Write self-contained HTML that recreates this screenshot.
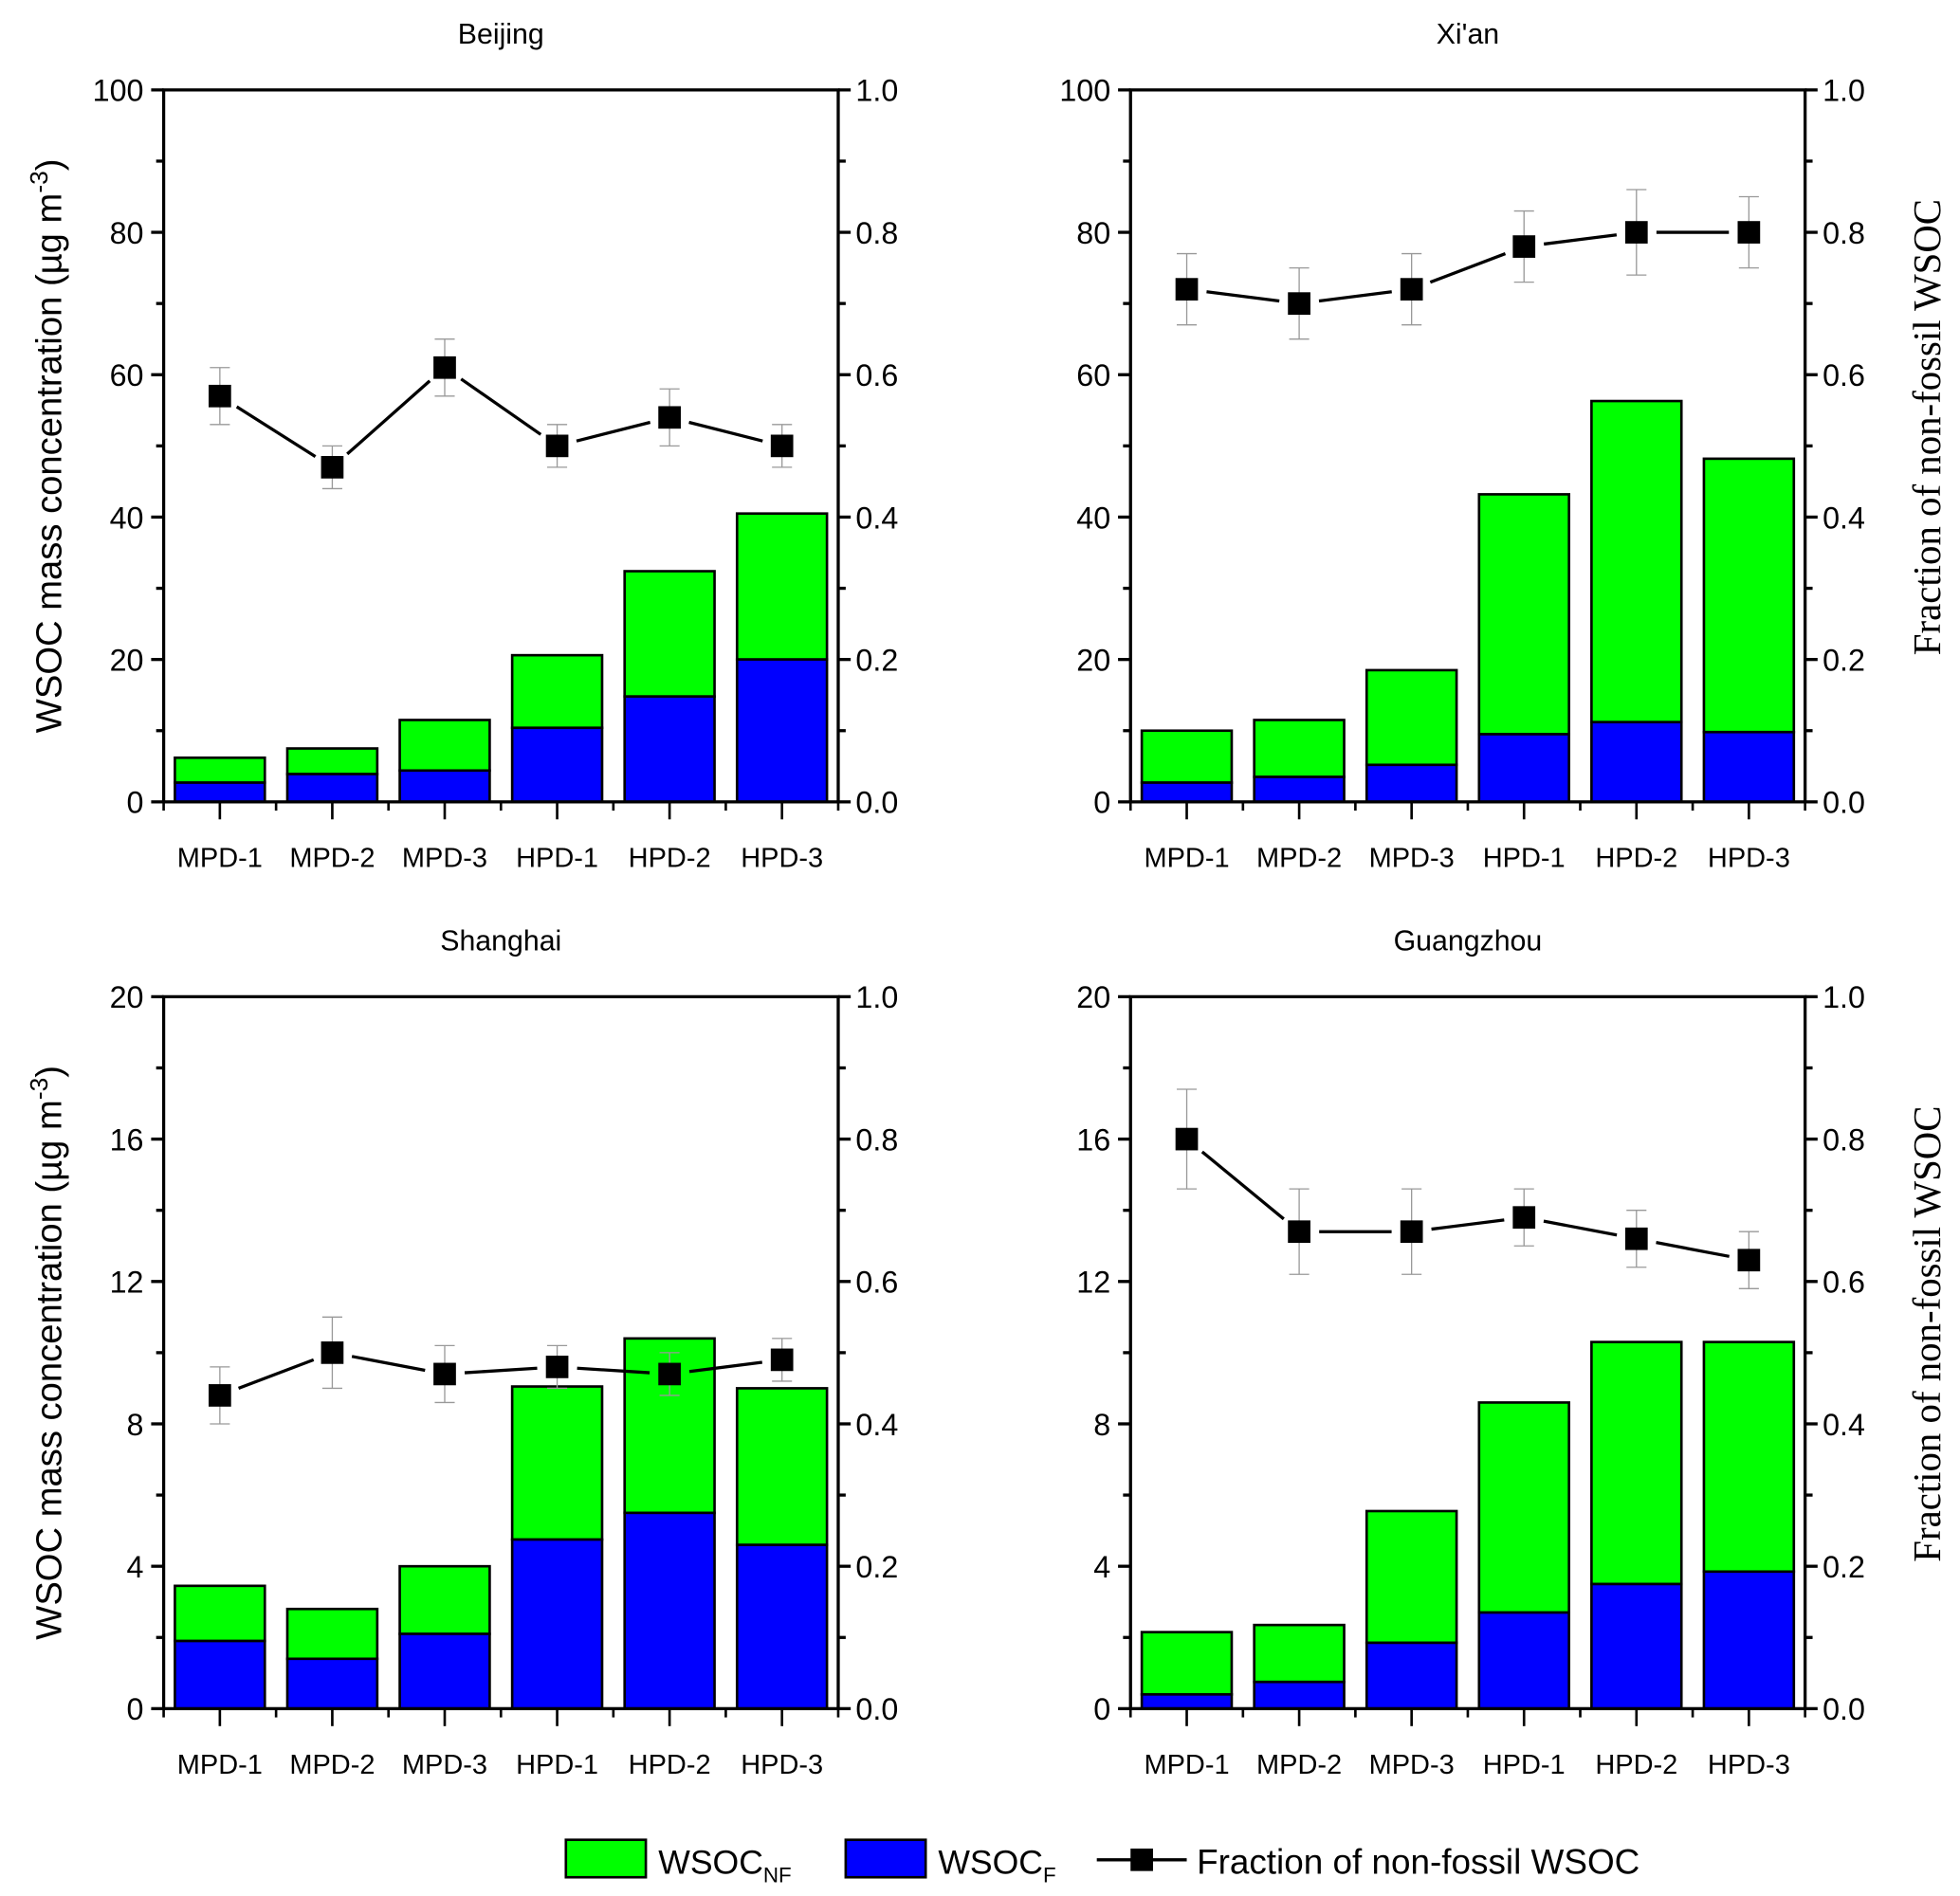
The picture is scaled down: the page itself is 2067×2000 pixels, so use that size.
<!DOCTYPE html>
<html><head><meta charset="utf-8"><style>
html,body{margin:0;padding:0;background:#fff}
svg{display:block}
text{font-family:"Liberation Sans",Arial,sans-serif;fill:#000}
text.serif{font-family:"Liberation Serif",serif}
</style></head><body>
<svg id="chart" width="2067" height="2000" viewBox="0 0 1569 1518" preserveAspectRatio="none" xmlns="http://www.w3.org/2000/svg"></svg>
<script>
const categories = ["MPD-1","MPD-2","MPD-3","HPD-1","HPD-2","HPD-3"];
const cities = ["Beijing","Xi'an","Shanghai","Guangzhou"];
const leftMax = [100,100,20,20];
const leftTicks = [[0,20,40,60,80,100],[0,20,40,60,80,100],[0,4,8,12,16,20],[0,4,8,12,16,20]];
const rightTicks = ["0.0","0.2","0.4","0.6","0.8","1.0"];
const totalBJ = [6.2,7.5,11.5,20.6,32.4,40.5];
const fossilBJ = [2.7,3.9,4.4,10.4,14.8,20.0];
const fracBJ = [0.57,0.47,0.61,0.50,0.54,0.50];
const errBJ = [0.04,0.03,0.04,0.03,0.04,0.03];
const totalXA = [10.0,11.5,18.5,43.2,56.3,48.2];
const fossilXA = [2.7,3.5,5.2,9.5,11.2,9.8];
const fracXA = [0.72,0.70,0.72,0.78,0.80,0.80];
const errXA = [0.05,0.05,0.05,0.05,0.06,0.05];
const totalSH = [3.45,2.8,4.0,9.05,10.4,9.0];
const fossilSH = [1.9,1.4,2.1,4.75,5.5,4.6];
const fracSH = [0.44,0.50,0.47,0.48,0.47,0.49];
const errSH = [0.04,0.05,0.04,0.03,0.03,0.03];
const totalGZ = [2.15,2.35,5.55,8.6,10.3,10.3];
const fossilGZ = [0.4,0.75,1.85,2.7,3.5,3.85];
const fracGZ = [0.80,0.67,0.67,0.69,0.66,0.63];
const errGZ = [0.07,0.06,0.06,0.04,0.04,0.04];

const totals=[totalBJ,totalXA,totalSH,totalGZ];
const fossils=[fossilBJ,fossilXA,fossilSH,fossilGZ];
const fracs=[fracBJ,fracXA,fracSH,fracGZ];
const errs=[errBJ,errXA,errSH,errGZ];

const svg=document.getElementById('chart');
const NS="http://www.w3.org/2000/svg";
function mk(tag,attrs,parent){const e=document.createElementNS(NS,tag);for(const k in attrs)e.setAttribute(k,attrs[k]);(parent||svg).appendChild(e);return e;}
const frames=[[131,72],[905,72],[131,798],[905,798]];
const W=540,H=570;
cities.forEach((city,p)=>{
  const [x0,y0]=frames[p];
  const g=mk('g',{});
  
  
  const yL=v=>y0+H-v/leftMax[p]*H;
  const yR=v=>y0+H-v*H;
  const xC=i=>x0+45+i*90;
  const t=mk('text',{x:x0+W/2,y:y0-37,'font-size':23,'text-anchor':'middle'},g);t.textContent=city;
  
  
  categories.forEach((c,i)=>{
    const tot=totals[p][i],f=fossils[p][i];
    const gb=mk('rect',{x:xC(i)-36,y:yL(tot),width:72,height:yL(f)-yL(tot),fill:'#00ff00',stroke:'#000','stroke-width':2},g);
    
    
    const bb=mk('rect',{x:xC(i)-36,y:yL(f),width:72,height:yL(0)-yL(f),fill:'#0000ff',stroke:'#000','stroke-width':2},g);
    
    
    const lbl=mk('text',{x:xC(i),y:y0+H+52,'font-size':22,'text-anchor':'middle'},g);lbl.textContent=c;
    
    
  });
  const pts=fracs[p].map((v,i)=>[xC(i),yR(v)]);
  for(let i=0;i<pts.length-1;i++){
    const [ax,ay]=pts[i],[bx,by]=pts[i+1];const dx=bx-ax,dy=by-ay,L=Math.hypot(dx,dy),gap=16;
    if(L>2*gap) mk('line',{x1:ax+dx/L*gap,y1:ay+dy/L*gap,x2:bx-dx/L*gap,y2:by-dy/L*gap,stroke:'#000','stroke-width':2.5},g);
  }
  fracs[p].forEach((v,i)=>{
    const e=errs[p][i],x=xC(i);
    mk('line',{x1:x,y1:yR(v+e),x2:x,y2:yR(v-e),stroke:'#999','stroke-width':1},g);
    mk('line',{x1:x-8,y1:yR(v+e),x2:x+8,y2:yR(v+e),stroke:'#999','stroke-width':1},g);
    mk('line',{x1:x-8,y1:yR(v-e),x2:x+8,y2:yR(v-e),stroke:'#999','stroke-width':1},g);
    const m=mk('rect',{x:x-9,y:yR(v)-9,width:18,height:18,fill:'#000'},g);
    
    
  });
  mk('rect',{x:x0,y:y0,width:W,height:H,fill:'none',stroke:'#000','stroke-width':2.5},g);
  const lt=leftTicks[p];
  lt.forEach((v,k)=>{
    mk('line',{x1:x0-10,y1:yL(v),x2:x0,y2:yL(v),stroke:'#000','stroke-width':2.5},g);
    if(k<lt.length-1){const mv=(v+lt[k+1])/2;mk('line',{x1:x0-6,y1:yL(mv),x2:x0,y2:yL(mv),stroke:'#000','stroke-width':2.5},g);}
    const tl=mk('text',{x:x0-16,y:yL(v)+9,'font-size':24.5,'text-anchor':'end'},g);tl.textContent=v;
    
    
  });
  rightTicks.forEach((s,k)=>{
    const v=k*0.2;
    mk('line',{x1:x0+W,y1:yR(v),x2:x0+W+10,y2:yR(v),stroke:'#000','stroke-width':2.5},g);
    if(k<5)mk('line',{x1:x0+W,y1:yR(v+0.1),x2:x0+W+6,y2:yR(v+0.1),stroke:'#000','stroke-width':2.5},g);
    const tr=mk('text',{x:x0+W+14,y:yR(v)+9,'font-size':24.5},g);tr.textContent=s;
    
    
  });
  for(let i=0;i<=12;i++){
    const x=x0+i*45;
    mk('line',{x1:x,y1:y0+H,x2:x,y2:y0+H+(i%2?14:7),stroke:'#000','stroke-width':2},g);
  }
  if(p%2===0){
    const yt=mk('text',{transform:`translate(49,${y0+H/2}) rotate(-90)`,'font-size':29,'text-anchor':'middle'},g);
    yt.innerHTML='WSOC mass concentration (µg m<tspan dy="-11" font-size="20">-3</tspan><tspan dy="11">)</tspan>';
    
    
  } else {
    const yt=mk('text',{transform:`translate(1553,${y0+H/2-15}) rotate(-90)`,'font-size':31,'text-anchor':'middle','class':'serif'},g);
    yt.textContent='Fraction of non-fossil WSOC';
    
    
  }
});
const lg=mk('g',{});


mk('rect',{x:453,y:1473,width:64,height:30,fill:'#00ff00',stroke:'#000','stroke-width':2},lg);
let lt1=mk('text',{x:527,y:1500,'font-size':27},lg);lt1.innerHTML='WSOC<tspan dy="7" font-size="17">NF</tspan>';
mk('rect',{x:677,y:1473,width:64,height:30,fill:'#0000ff',stroke:'#000','stroke-width':2},lg);
let lt2=mk('text',{x:751,y:1500,'font-size':27},lg);lt2.innerHTML='WSOC<tspan dy="7" font-size="17">F</tspan>';
mk('line',{x1:878,y1:1489,x2:950,y2:1489,stroke:'#000','stroke-width':2.5},lg);
mk('rect',{x:905,y:1480,width:18,height:18,fill:'#000'},lg);
let lt3=mk('text',{x:958,y:1500,'font-size':28},lg);lt3.textContent='Fraction of non-fossil WSOC';
</script>
</body></html>
